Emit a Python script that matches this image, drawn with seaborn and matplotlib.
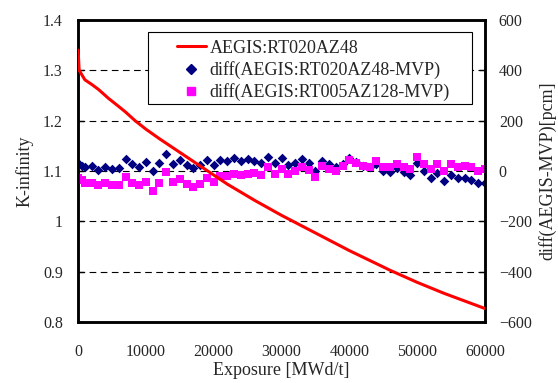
import numpy as np
import pandas as pd
import matplotlib
matplotlib.use("Agg")
import matplotlib.pyplot as plt
import seaborn as sns
from matplotlib.lines import Line2D
from matplotlib.patches import Rectangle

sns.set_style("white")
plt.rcParams['font.family'] = ['Liberation Serif', 'DejaVu Serif']

# K-infinity curve (AEGIS:RT020AZ48)
kinf_exposure = [0, 150, 1000, 2000, 3000, 4500, 6000, 7000, 8400, 10000, 12000, 14000,
                 16000, 18000, 20000, 22000, 24000, 26000, 28000, 30000, 32000, 34000,
                 36000, 38000, 40000, 42000, 44000, 46000, 48000, 50000, 52000, 54000,
                 56000, 58000, 60000]
kinf_values = [1.340, 1.300, 1.281, 1.272, 1.262, 1.244, 1.228, 1.217, 1.200, 1.183, 1.164,
               1.146, 1.128, 1.110, 1.092, 1.074, 1.058, 1.042, 1.027, 1.012, 0.998, 0.984,
               0.970, 0.956, 0.942, 0.929, 0.916, 0.903, 0.891, 0.879, 0.868, 0.857, 0.847,
               0.837, 0.827]

# diff points (pcm)
diff_exposure = [0, 500] + list(range(1000, 61000, 1000))
diff_rt020 = [33, 21, 17, 21, 4, 16, 7, 11, 46, 27, 17, 35, 0, 31, 67, 28, 42, 23, 11, 23,
              44, 22, 44, 41, 50, 41, 46, 41, 33, 57, 33, 50, 23, 33, 46, 33, -1, 41, 28,
              17, 28, 52, 37, 20, 15, 28, 1, -3, 11, -5, -16, 31, 0, -27, -9, -40, -16,
              -27, -27, -36, -49, -46]
diff_rt005 = [-29, -37, -46, -46, -57, -46, -57, -57, -25, -46, -57, -44, -78, -46, -5, -44,
              -33, -52, -62, -52, -29, -44, -19, -20, -12, -17, -11, -9, -15, 15, -11, 9,
              -13, 1, 15, 5, -25, 20, 9, 1, 20, 44, 33, 20, 15, 40, 17, 17, 28, 17, 9, 54,
              28, 9, 28, 1, 28, 17, 20, 15, 1, 7]

labels = ['AEGIS:RT020AZ48', 'diff(AEGIS:RT020AZ48-MVP)', 'diff(AEGIS:RT005AZ128-MVP)']

kinf_df = pd.DataFrame({'exposure': kinf_exposure, 'kinf': kinf_values})
diff_df = pd.DataFrame({'exposure': diff_exposure, 'rt020': diff_rt020, 'rt005': diff_rt005})

fig = plt.figure(figsize=(5.58, 3.83), dpi=100)
ax = fig.add_axes([0.140, 0.159, 0.729, 0.789])
ax2 = ax.twinx()

# dashed horizontal grid
for yv in [0.9, 1.0, 1.1, 1.2, 1.3]:
    ax2.axhline((yv - 1.1) * 2000, color='black', linestyle=(0, (6, 4)), linewidth=0.8,
                zorder=0)

sns.scatterplot(data=diff_df, x='exposure', y='rt020', ax=ax2, marker='D', s=24,
                color='#000080', edgecolor='#000080', linewidth=0, zorder=3)
sns.scatterplot(data=diff_df, x='exposure', y='rt005', ax=ax2, marker='s', s=28,
                color='#FF00FF', edgecolor='#FF00FF', linewidth=0, zorder=3)

ax.set_zorder(ax2.get_zorder() + 1)
ax.patch.set_visible(False)
sns.lineplot(data=kinf_df, x='exposure', y='kinf', ax=ax, color='red', linewidth=2.2,
             zorder=4)

ax.set_xlim(0, 60000)
ax.set_ylim(0.8, 1.4)
ax2.set_ylim(-600, 600)
ax.set_xticks(np.arange(0, 60001, 10000))
ax.set_yticks([0.8, 0.9, 1.0, 1.1, 1.2, 1.3, 1.4])
ax.set_yticklabels(['0.8', '0.9', '1', '1.1', '1.2', '1.3', '1.4'])
ax2.set_yticks(np.arange(-600, 601, 200))

ax.set_xlabel('Exposure [MWd/t]', fontsize=13, labelpad=1)
ax.set_ylabel('K-infinity', fontsize=13, labelpad=7)
ax2.set_ylabel('diff(AEGIS-MVP)[pcm]', fontsize=13, labelpad=5)

for a in (ax, ax2):
    a.tick_params(direction='in', length=4, width=1, labelsize=11.5, color='black')
    for sp in a.spines.values():
        sp.set_color('black')
        sp.set_linewidth(1.8)
ax.tick_params(axis='x', pad=16)
ax.tick_params(axis='y', pad=11)
ax2.tick_params(axis='y', pad=10)

# legend frame
ax.add_patch(Rectangle((0.172, 0.722), 0.796, 0.238, transform=ax.transAxes,
                       facecolor='white', edgecolor='black', linewidth=0.8, zorder=5))

handles = [
    Line2D([], [], color='red', linewidth=2.2),
    Line2D([], [], color='#000080', marker='D', linestyle='none', markersize=4.8),
    Line2D([], [], color='#FF00FF', marker='s', linestyle='none', markersize=5.3),
]
leg = ax.legend(handles, labels, loc='upper left', bbox_to_anchor=(0.243, 0.935),
                fontsize=13, frameon=False, borderpad=0, labelspacing=0.25,
                handlelength=1.6, handletextpad=0.2, borderaxespad=0)
leg.set_zorder(6)

fig.savefig('out.png', dpi=100)
